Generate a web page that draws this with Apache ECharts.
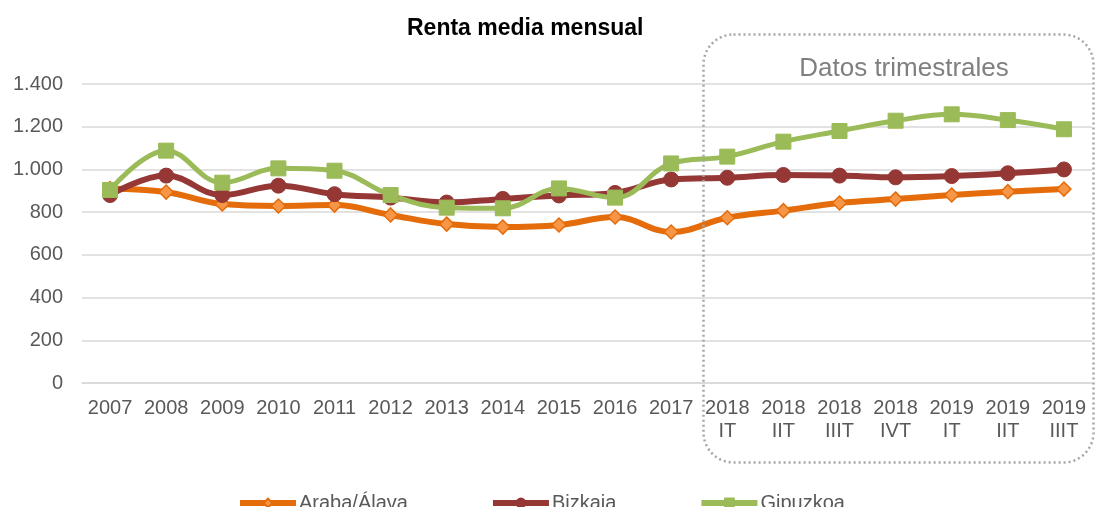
<!DOCTYPE html>
<html>
<head>
<meta charset="utf-8">
<script src="https://cdn.jsdelivr.net/npm/echarts@6/dist/echarts.min.js"></script>
<style>
  html, body { margin: 0; padding: 0; background: #fff; }
  #chart { width: 1095px; height: 507px; }
</style>
</head>
<body>
<div id="chart"></div>
<script>
// periodos (anuales y trimestrales)
var categories = ['2007', '2008', '2009', '2010', '2011', '2012', '2013', '2014', '2015', '2016', '2017',
  '2018\nIT', '2018\nIIT', '2018\nIIIT', '2018\nIVT', '2019\nIT', '2019\nIIT', '2019\nIIIT'];

var araba = [910, 894, 838, 829, 833, 787, 744, 730, 740, 777, 707, 774, 807, 843, 861, 880, 896, 908];
var bizkaia = [880, 971, 880, 924, 884, 868, 845, 862, 878, 890, 953, 961, 974, 971, 963, 969, 982, 1000];
var gipuzkoa = [904, 1088, 938, 1005, 994, 880, 821, 818, 911, 868, 1028, 1060, 1130, 1180, 1228, 1258, 1231, 1188];

var yTicks = { min: 0, max: 1400, interval: 200 };

var font = '"Liberation Sans", Arial, sans-serif';

function fmt (v) {
  return String(v).replace(/\B(?=(\d{3})+(?!\d))/g, '.');
}

var chart = echarts.init(document.getElementById('chart'));
chart.setOption({
  animation: false,
  title: {
    text: 'Renta media mensual',
    left: 402,
    top: 12,
    textStyle: { fontFamily: font, fontSize: 23, fontWeight: 'bold', color: '#000' }
  },
  legend: {
    left: 232,
    top: 488,
    itemWidth: 56,
    itemHeight: 11,
    itemGap: 82,
    lineStyle: { width: 6 },
    textStyle: { fontFamily: font, fontSize: 20, color: '#595959', padding: [0, 0, 0, -2] },
    data: ['Araba/Álava', 'Bizkaia', 'Gipuzkoa']
  },
  grid: { left: 82, right: 3, top: 84, bottom: 124 },
  xAxis: {
    type: 'category',
    data: categories,
    boundaryGap: true,
    axisLine: { lineStyle: { color: '#d9d9d9', width: 1.5 } },
    axisTick: { show: false },
    axisLabel: { fontFamily: font, fontSize: 20, color: '#595959', margin: 14, lineHeight: 23, interval: 0 }
  },
  yAxis: {
    type: 'value',
    min: yTicks.min,
    max: yTicks.max,
    interval: yTicks.interval,
    axisLine: { show: false },
    axisTick: { show: false },
    splitLine: { lineStyle: { color: '#d9d9d9', width: 1.5 } },
    axisLabel: { fontFamily: font, fontSize: 20, color: '#595959', margin: 19, formatter: fmt }
  },
  series: [
    {
      name: 'Araba/Álava',
      type: 'line',
      data: araba,
      smooth: 0.4,
      symbol: 'diamond',
      symbolSize: 14,
      lineStyle: { color: '#E46C0A', width: 6 },
      itemStyle: { color: '#F79646', borderColor: '#E46C0A', borderWidth: 1.5 }
    },
    {
      name: 'Bizkaia',
      type: 'line',
      data: bizkaia,
      smooth: 0.4,
      symbol: 'circle',
      symbolSize: 15,
      lineStyle: { color: '#953735', width: 6 },
      itemStyle: { color: '#953735', borderColor: '#953735', borderWidth: 1 }
    },
    {
      name: 'Gipuzkoa',
      type: 'line',
      data: gipuzkoa,
      smooth: 0.4,
      symbol: 'rect',
      symbolSize: 15,
      lineStyle: { color: '#9BBB59', width: 5 },
      itemStyle: { color: '#9BBB59', borderColor: '#9BBB59', borderWidth: 1 }
    }
  ],
  graphic: [
    {
      type: 'rect',
      left: 701,
      top: 32,
      z: 100,
      shape: { width: 390, height: 428, r: 30 },
      style: { fill: 'none', stroke: '#a6a6a6', lineWidth: 2.5, lineDash: [2, 3] }
    },
    {
      type: 'text',
      x: 904,
      y: 69,
      z: 100,
      style: {
        text: 'Datos trimestrales',
        fontFamily: font,
        fontSize: 26,
        fill: '#7f7f7f',
        textAlign: 'center',
        textVerticalAlign: 'middle'
      }
    }
  ]
});
</script>
</body>
</html>
